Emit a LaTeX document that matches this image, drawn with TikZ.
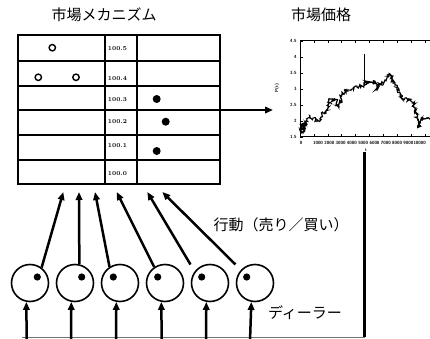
\documentclass[tikz,border=0pt]{standalone}
\usepackage{fontspec}
\newfontfamily\jp{Noto Sans CJK JP}
\usetikzlibrary{arrows.meta,decorations.pathmorphing}
\begin{document}
\begin{tikzpicture}[x=1pt,y=-1pt,
  jptext/.style={font=\jp\fontsize{15}{17}\selectfont, inner sep=0pt},
  frame/.style={line width=2pt},
  rowline/.style={line width=1.6pt},
  pricelab/.style={font=\fontsize{6}{7}\selectfont\bfseries, inner sep=0pt},
  bidmark/.style={line width=1.4pt},
  askdot/.style={fill=black},
  dealer/.style={circle, draw, line width=1.6pt, minimum size=37pt, inner sep=0pt},
  act/.style={line width=2.5pt, -{Triangle[length=8pt,width=6.5pt]}},
  feedback/.style={line width=2.8pt},
  tick/.style={font=\fontsize{4.5}{5}\selectfont\sffamily\bfseries, inner sep=0.3pt},
  series/.style={line width=1.1pt, decorate, decoration={random steps, segment length=0.8pt, amplitude=1.8pt}}
]
\useasboundingbox (0,0) rectangle (430,339);
\clip (0,0) rectangle (430,339);

% titles
\node[jptext] (t1) at (104,15) {市場メカニズム};
\node[jptext] (t2) at (321,15) {市場価格};

% order book table
\node[draw, frame, minimum width=202pt, minimum height=149pt, inner sep=0pt] (tbl) at (119,109.5) {};
\foreach \y in {61,86,110,135,160} \draw[rowline] (18,\y) -- (220,\y);
\draw[frame] (105,35) -- (105,184);
\draw[frame] (137,35) -- (137,184);
\node[pricelab] (p5) at (117.5,49) {100.5};
\node[pricelab] (p4) at (117.5,79) {100.4};
\node[pricelab] (p3) at (117.5,100) {100.3};
\node[pricelab] (p2) at (117.5,122) {100.2};
\node[pricelab] (p1) at (117.5,146) {100.1};
\node[pricelab] (p0) at (117.5,174) {100.0};
\draw[bidmark] (52.3,47.7) circle[radius=3.2pt];
\draw[bidmark] (38.3,77.3) circle[radius=3.2pt];
\draw[bidmark] (76,77.3) circle[radius=3.2pt];
\fill[askdot] (156.7,99) circle[radius=4pt];
\fill[askdot] (165.7,121.7) circle[radius=4pt];
\fill[askdot] (156.7,151) circle[radius=4pt];

% arrow table -> chart
\coordinate (chartin) at (273,110);
\draw[act] (tbl.east |- chartin) -- (chartin);

% chart
\draw[line width=1pt] (440,41) -- (300,41) -- (300,137) -- (440,137);
\foreach \v/\lab in {4.5/4.5,4/4,3.5/3.5,3/3,2.5/2.5,2/2,1.5/1.5} {
  \pgfmathsetmacro{\yy}{137-(\v-1.5)*32}
  \draw[line width=0.6pt] (300,\yy) -- (302.5,\yy);
  \node[tick, anchor=east] at (297,\yy) {\lab};
}
\foreach \k in {1,...,9} {
  \pgfmathsetmacro{\xx}{300+13.9*\k}
  \draw[line width=0.6pt] (\xx,137) -- (\xx,134.5);
  \draw[line width=0.6pt] (\xx,41) -- (\xx,43.5);
}
\node[tick] at (301,143) {0};
\foreach \k/\lab in {1/1000,2/2000,3/3000,4/4000,5/5000,6/6000,7/7000,8/8000,9/9000,10/10000} {
  \pgfmathsetmacro{\xx}{318+11.3*(\k-1)}
  \node[tick] at (\xx,143) {\lab};
}
\node[tick, rotate=90] (ylab) at (277,88) {P(t)};
\node[tick] (tlab) at (366,150) {t};
\pgfmathsetseed{7}
\draw[series] (301,134) -- (302,124) -- (303,133) -- (304,123) -- (305,128) -- (306,121) -- (307,119) -- (310,116) -- (313,118) -- (317,121) -- (320,119) -- (323,113) -- (326,113) -- (328,108) -- (330,99) -- (333,101) -- (336,100) -- (338,106) -- (340,103) -- (341,98) -- (343,93) -- (347,91) -- (352,89) -- (357,87) -- (362,86) -- (364,85) -- (366,82) -- (372,82) -- (376,83) -- (377,90) -- (379,84) -- (382,85) -- (385,80) -- (388,77) -- (390,74) -- (392,80) -- (395,85) -- (398,88) -- (400,95) -- (402,99) -- (405,98) -- (408,100) -- (411,101) -- (413,103) -- (415,110) -- (417,118) -- (419,127) -- (421,119) -- (425,119) -- (430,118);
\draw[line width=0.9pt] (364,86) -- (364,54);

% feedback line
\coordinate (corner) at (364.5,337);
\coordinate (bl) at (22,337);
\draw[feedback] (tlab.south -| corner) -- (corner);
\draw[line width=1pt, black!55] (corner) -- (bl);

% dealers
\node[dealer] (d1) at (30,283) {};
\node[dealer] (d2) at (75,283) {};
\node[dealer] (d3) at (120,283) {};
\node[dealer] (d4) at (165,283) {};
\node[dealer] (d5) at (210,283) {};
\node[dealer] (d6) at (255,283) {};
\foreach \x in {37.3,81.7,113.3,157.7,201.7,246.7} \fill (\x,277) circle[radius=3.6pt];

% actions
\coordinate (a1) at (63.3,192);
\coordinate (a2) at (79,192);
\coordinate (a3) at (95,192);
\coordinate (a4) at (116.7,192);
\coordinate (a5) at (147.3,192);
\coordinate (a6) at (162.3,192);
\draw[act] (d1.53) -- (a1);
\draw[act] (d2.77) -- (a2);
\draw[act] (d3.123) -- (a3);
\draw[act] (d4.124) -- (a4);
\draw[act, shorten <=8pt] (d5.143) -- (a5);
\draw[act, shorten <=7.7pt] (d6.137) -- (a6);

% inputs from bottom
\foreach \i/\x in {1/26.7,2/71,3/116,4/161.7,5/206,6/250} {
  \coordinate (b\i) at (\x,341);
  \draw[act] (b\i) -- (d\i.259);
}

\node[jptext] (actlab) at (281,225) {行動（売り／買い）};
\node[jptext] (dlab) at (305,313) {ディーラー};
\end{tikzpicture}
\end{document}
